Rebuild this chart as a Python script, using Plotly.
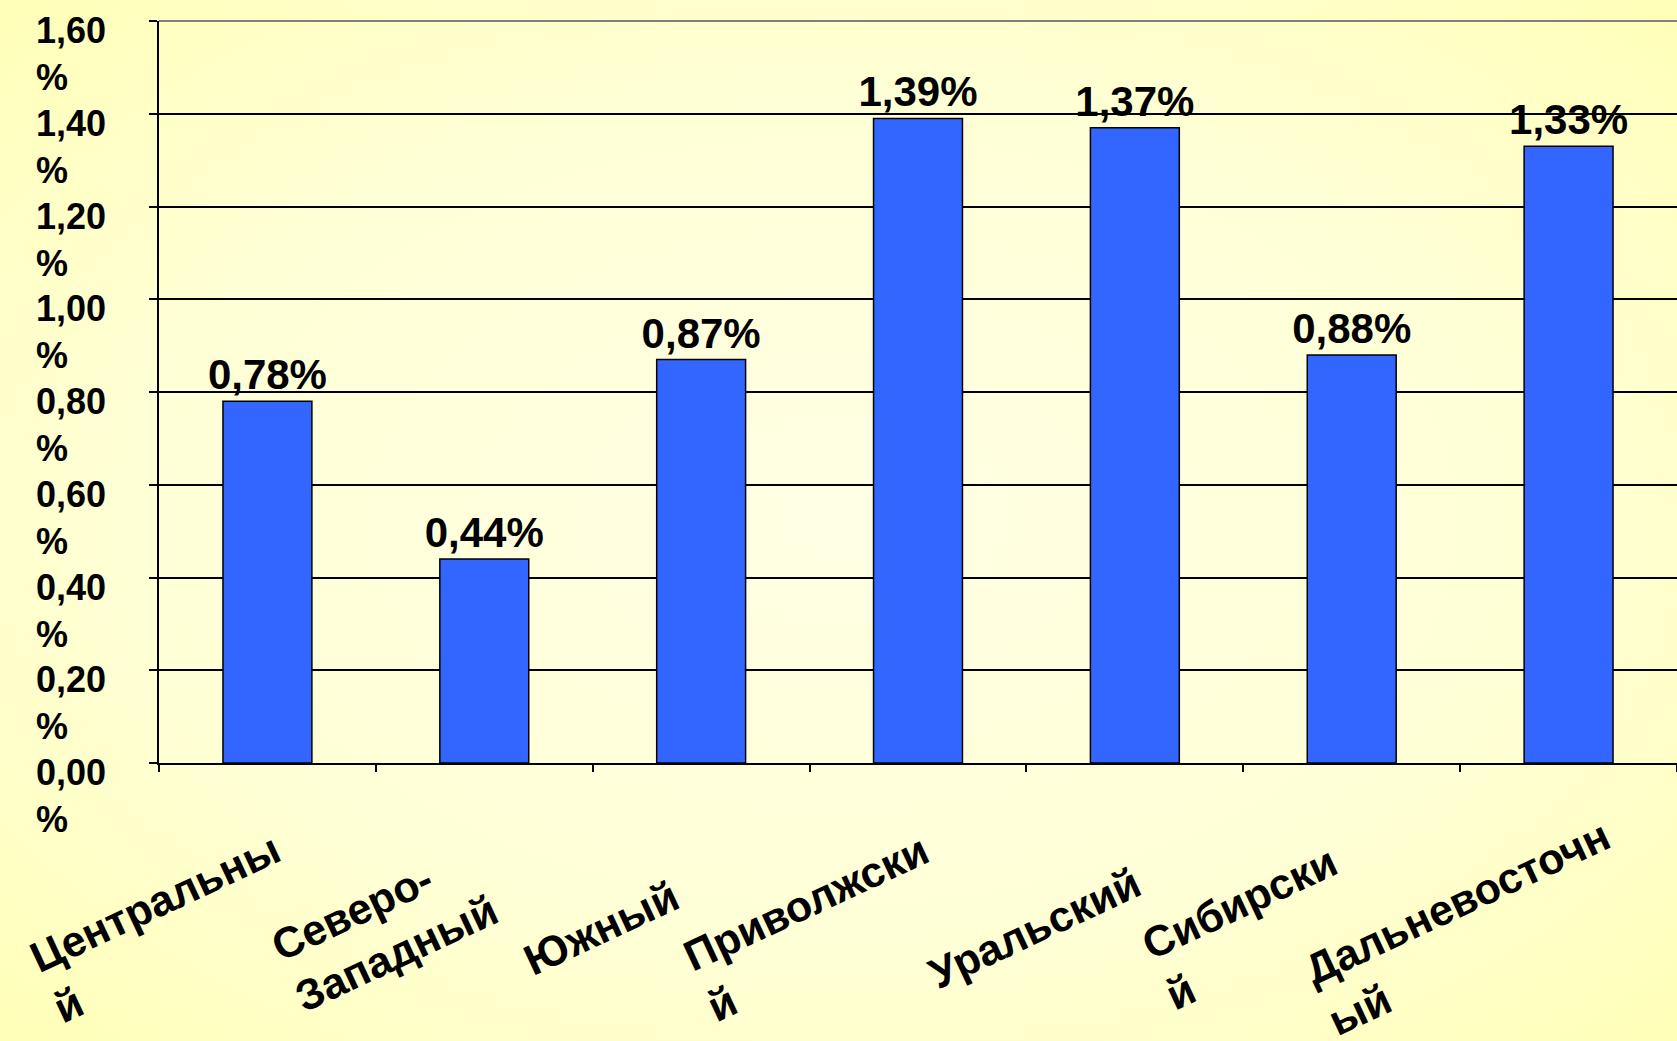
import base64
import plotly.graph_objects as go

categories = ["Центральный", "Северо-Западный", "Южный", "Приволжский",
              "Уральский", "Сибирский", "Дальневосточный"]
category_labels = ["Центральны<br>й", "Северо-<br>Западный", "Южный", "Приволжски<br>й",
                   "Уральский", "Сибирски<br>й", "Дальневосточн<br>ый"]
values = [0.78, 0.44, 0.87, 1.39, 1.37, 0.88, 1.33]
y_ticks = [0.0, 0.2, 0.4, 0.6, 0.8, 1.0, 1.2, 1.4, 1.6]
y_tick_labels = ["0,00<br>%", "0,20<br>%", "0,40<br>%", "0,60<br>%", "0,80<br>%",
                 "1,00<br>%", "1,20<br>%", "1,40<br>%", "1,60<br>%"]

W, H = 1677, 1041
ML, MR, MT, MB = 159, 0, 21, 278
pw, ph = W - ML - MR, H - MT - MB

svg = f'''<svg xmlns="http://www.w3.org/2000/svg" width="{W}" height="{H}" viewBox="0 0 {W} {H}" preserveAspectRatio="none">
<defs><radialGradient id="g" cx="0.5" cy="0.5" r="0.75">
<stop offset="0" stop-color="#FFFFE4"/><stop offset="0.55" stop-color="#FFFFD6"/><stop offset="1" stop-color="#FFFFB4"/>
</radialGradient></defs><rect width="{W}" height="{H}" fill="url(#g)"/></svg>'''
src = "data:image/svg+xml;base64," + base64.b64encode(svg.encode()).decode()

FONT = "Liberation Sans, Arial, sans-serif"

fig = go.Figure(go.Bar(
    x=categories, y=values,
    marker=dict(color="#3366FF", line=dict(color="#000000", width=1.5)),
    texttemplate="%{y:.2f}%", textposition="outside", constraintext="none",
    textfont=dict(family=FONT, size=42, color="#000000", weight="bold"),
    cliponaxis=False,
))

annotations = []
for v, t in zip(y_ticks, y_tick_labels):
    annotations.append(dict(
        x=0, xref="paper", xanchor="right", xshift=-51,
        y=v, yref="y", yanchor="top", yshift=13,
        text=t, showarrow=False, align="left",
        font=dict(family=FONT, size=36, color="#000000", weight="bold"),
    ))
for c, t in zip(categories, category_labels):
    annotations.append(dict(
        x=c, xref="x", xanchor="center", xshift=-100,
        y=0, yref="paper", yanchor="middle", yshift=-165,
        text=t, showarrow=False, align="left", textangle=-25,
        font=dict(family=FONT, size=43, color="#000000", weight="bold"),
    ))

fig.update_layout(
    width=W, height=H,
    margin=dict(l=ML, r=MR, t=MT, b=MB, pad=0),
    paper_bgcolor="rgba(0,0,0,0)", plot_bgcolor="rgba(0,0,0,0)",
    separators=", ",
    bargap=0.59,
    showlegend=False,
    font=dict(family=FONT, color="#000000"),
    annotations=annotations,
    shapes=[dict(type="line", xref="paper", yref="paper", x0=0, x1=1, y0=1, y1=1,
                 line=dict(color="#808080", width=2), layer="below")],
    images=[dict(source=src, xref="paper", yref="paper",
                 x=-ML / pw, y=1 + MT / ph, sizex=W / pw, sizey=H / ph,
                 xanchor="left", yanchor="top", sizing="stretch", layer="below")],
    xaxis=dict(
        range=[-0.5, len(categories) - 0.5], autorange=False,
        showline=True, linecolor="#000000", linewidth=2,
        ticks="outside", ticklen=7, tickwidth=2, tickcolor="#000000",
        tickson="boundaries", showticklabels=False,
        showgrid=False,
    ),
    yaxis=dict(
        range=[0, 1.6], tickvals=y_ticks, showticklabels=False,
        showline=True, linecolor="#000000", linewidth=2,
        ticks="outside", ticklen=8, tickwidth=2, tickcolor="#000000",
        showgrid=True, gridcolor="#000000", gridwidth=2,
        zeroline=False,
    ),
)

fig.write_html("out.html", config={"displayModeBar": False},
               post_script="document.body.style.margin='0';document.body.style.overflow='hidden';")
